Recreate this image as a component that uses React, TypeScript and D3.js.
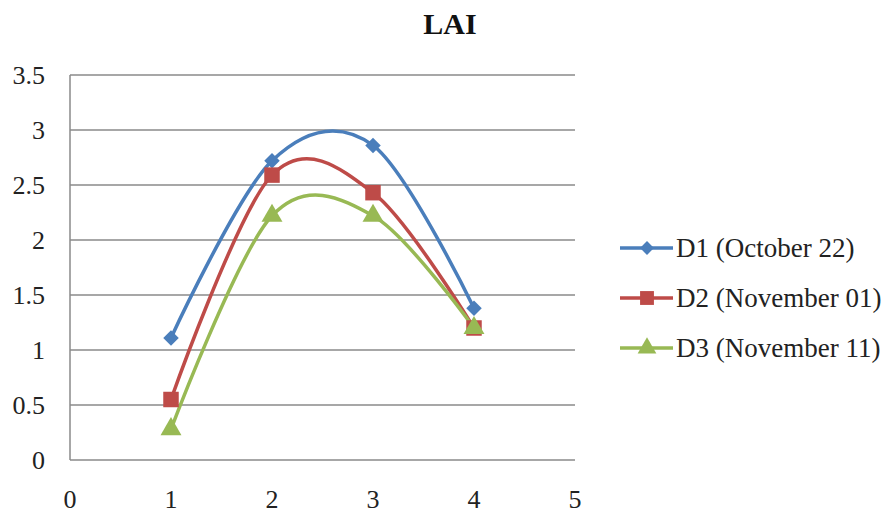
import { useEffect, useRef } from 'react';
import * as d3 from "d3";

const xValues = [1, 2, 3, 4];
const d1 = [1.11, 2.72, 2.86, 1.38];
const d2 = [0.55, 2.59, 2.43, 1.2];
const d3v = [0.28, 2.22, 2.22, 1.2];
const seriesNames = ["D1 (October 22)", "D2 (November 01)", "D3 (November 11)"];
const yTicks = [0, 0.5, 1, 1.5, 2, 2.5, 3, 3.5];
const xTicks = [0, 1, 2, 3, 4, 5];

const App: React.FC = () => {
    const ref = useRef<SVGSVGElement | null>(null);

    useEffect(() => {
        if (!ref.current) return;
        const width = 891;
        const height = 516;
        const margin = { top: 75, right: 316, bottom: 56, left: 70 };
        const innerWidth = width - margin.left - margin.right;
        const innerHeight = height - margin.top - margin.bottom;
        const font = "'Liberation Serif', 'DejaVu Serif', serif";

        const svg = d3.select(ref.current)
            .attr("width", width)
            .attr("height", height);
        svg.selectAll("*").remove();

        svg.append("rect").attr("width", width).attr("height", height).attr("fill", "white");

        // 타이틀
        svg.append("text")
            .attr("x", 450)
            .attr("y", 34)
            .attr("text-anchor", "middle")
            .attr("font-family", font)
            .attr("font-weight", "bold")
            .attr("font-size", "30px")
            .attr("fill", "#111")
            .text("LAI");

        const x = d3.scaleLinear().domain([0, 5]).range([0, innerWidth]);
        const y = d3.scaleLinear().domain([0, 3.5]).range([innerHeight, 0]);

        const g = svg.append("g")
            .attr("transform", `translate(${margin.left}, ${margin.top})`);

        // 그리드
        g.selectAll(".grid")
            .data(yTicks)
            .enter()
            .append("line")
            .attr("x1", 0)
            .attr("x2", innerWidth)
            .attr("y1", d => y(d))
            .attr("y2", d => y(d))
            .attr("stroke", "#8a8a8a")
            .attr("stroke-width", 1.5);

        g.append("line")
            .attr("x1", 0).attr("x2", 0)
            .attr("y1", 0).attr("y2", innerHeight)
            .attr("stroke", "#8a8a8a")
            .attr("stroke-width", 1.5);

        // y축 레이블
        g.selectAll(".ylab")
            .data(yTicks)
            .enter()
            .append("text")
            .attr("x", -25)
            .attr("y", d => y(d))
            .attr("dy", "0.33em")
            .attr("text-anchor", "end")
            .attr("font-family", font)
            .attr("font-size", "26px")
            .attr("fill", "#222")
            .text(d => `${d}`);

        // x축 레이블
        g.selectAll(".xlab")
            .data(xTicks)
            .enter()
            .append("text")
            .attr("x", d => x(d))
            .attr("y", innerHeight + 48)
            .attr("text-anchor", "middle")
            .attr("font-family", font)
            .attr("font-size", "26px")
            .attr("fill", "#222")
            .text(d => `${d}`);

        // 다이아몬드는 정사각형을 45도 회전
        const series = [
            { name: seriesNames[0], values: d1, color: "#4a7ebb", symbol: d3.symbolSquare, size: 120, rotate: 45 },
            { name: seriesNames[1], values: d2, color: "#be4b48", symbol: d3.symbolSquare, size: 240, rotate: 0 },
            { name: seriesNames[2], values: d3v, color: "#98b954", symbol: d3.symbolTriangle, size: 190, rotate: 0 },
        ];

        const line = d3.line<number>()
            .x((_, i) => x(xValues[i]))
            .y(d => y(d))
            .curve(d3.curveCatmullRom.alpha(0));

        series.forEach(s => {
            g.append("path")
                .datum(s.values)
                .attr("fill", "none")
                .attr("stroke", s.color)
                .attr("stroke-width", 3.5)
                .attr("d", line);
        });

        series.forEach(s => {
            g.selectAll(null)
                .data(s.values)
                .enter()
                .append("path")
                .attr("d", d3.symbol().type(s.symbol).size(s.size))
                .attr("transform", (d, i) => `translate(${x(xValues[i])}, ${y(d)}) rotate(${s.rotate})`)
                .attr("fill", s.color);
        });

        // 범례
        const legend = svg.append("g").attr("transform", "translate(620, 248)");
        series.forEach((s, i) => {
            const row = legend.append("g").attr("transform", `translate(0, ${i * 50})`);
            row.append("line")
                .attr("x1", 0).attr("x2", 53)
                .attr("y1", 0).attr("y2", 0)
                .attr("stroke", s.color)
                .attr("stroke-width", 3.5);
            row.append("path")
                .attr("d", d3.symbol().type(s.symbol).size(s.size * 0.8))
                .attr("transform", `translate(27, 0) rotate(${s.rotate})`)
                .attr("fill", s.color);
            row.append("text")
                .attr("x", 56)
                .attr("y", 0)
                .attr("dy", "0.33em")
                .attr("font-family", font)
                .attr("font-size", "27px")
                .attr("fill", "#222")
                .text(s.name);
        });
    }, []);

    return (
        <div style={{ margin: -8 }}>
            <svg ref={ref}></svg>
        </div>
    );
};

export default App;
